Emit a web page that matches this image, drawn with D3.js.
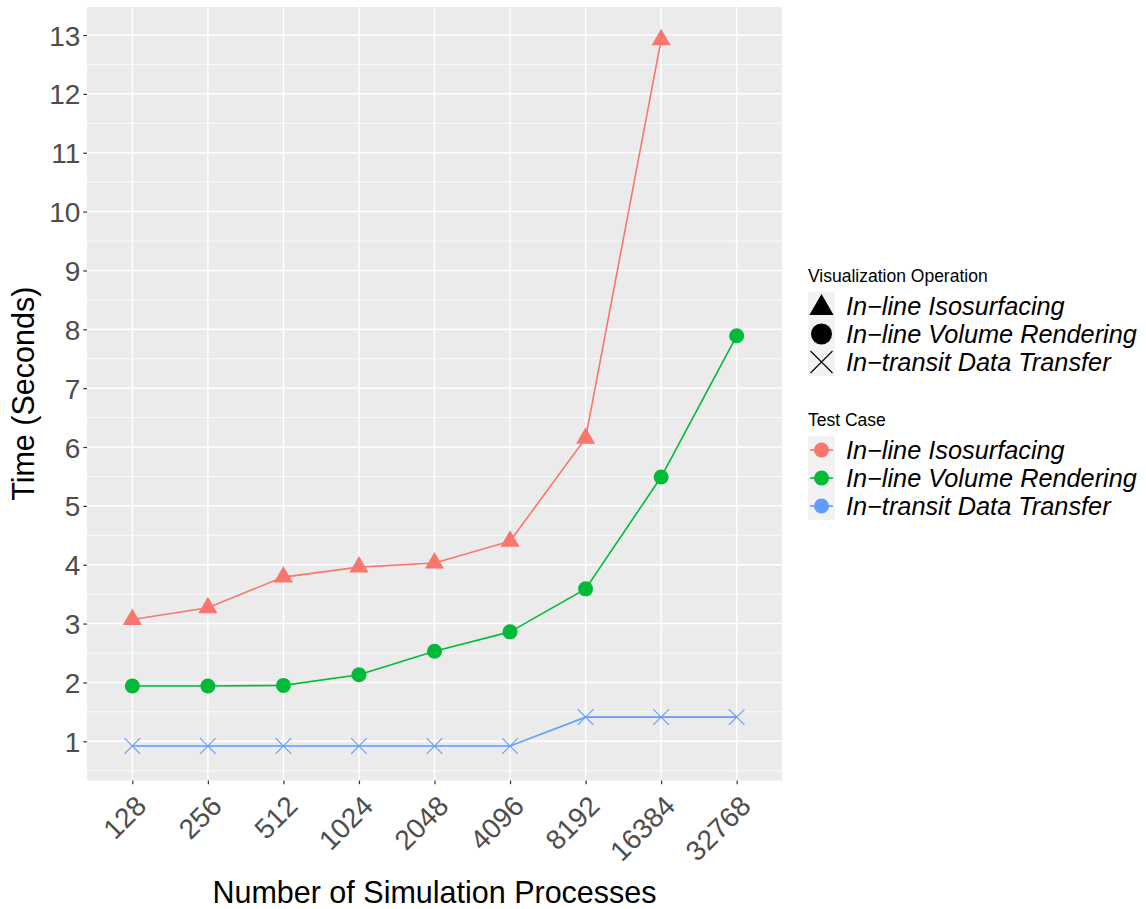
<!DOCTYPE html>
<html>
<head>
<meta charset="utf-8">
<script src="https://cdn.jsdelivr.net/npm/d3@7"></script>
<style>
  html, body { margin: 0; padding: 0; background: #fff; }
  svg { display: block; font-family: "Liberation Sans", Arial, Helvetica, sans-serif; }
</style>
</head>
<body>
<svg id="chart" width="1146" height="909"></svg>
<script>
// Processes on the x axis (discrete)
const processes = ["128", "256", "512", "1024", "2048", "4096", "8192", "16384", "32768"];

// Seconds per run for each test case
const isosurfacing = [3.07, 3.27, 3.79, 3.96, 4.03, 4.40, 6.15, 12.92, null];
const volumeRendering = [1.94, 1.94, 1.95, 2.13, 2.53, 2.86, 3.59, 5.49, 7.89];
const dataTransfer = [0.92, 0.92, 0.92, 0.92, 0.92, 0.92, 1.41, 1.41, 1.41];

const seriesNames = ["In\u2212line Isosurfacing", "In\u2212line Volume Rendering", "In\u2212transit Data Transfer"];
const seriesColors = ["#F8766D", "#00BA38", "#619CFF"];
const seriesShapes = ["triangle", "circle", "cross"];
const yTicks = [1, 2, 3, 4, 5, 6, 7, 8, 9, 10, 11, 12, 13];

const series = [isosurfacing, volumeRendering, dataTransfer].map((vals, i) => ({
  name: seriesNames[i], color: seriesColors[i], shape: seriesShapes[i],
  points: vals.map((v, j) => ({ x: processes[j], y: v })).filter(d => d.y != null)
}));

const svg = d3.select("#chart");
const panel = { left: 87, top: 7, right: 782, bottom: 780.5 };

const x = d3.scalePoint().domain(processes)
  .range([panel.left, panel.right]).padding(0.6);
const y = d3.scaleLinear().domain([0.334, 13.476])
  .range([panel.bottom, panel.top]);

// panel background
svg.append("rect")
  .attr("x", panel.left).attr("y", panel.top)
  .attr("width", panel.right - panel.left).attr("height", panel.bottom - panel.top)
  .attr("fill", "#EBEBEB");

// minor gridlines
const minor = d3.range(0.5, 13.6, 1);
svg.append("g").selectAll("line").data(minor).join("line")
  .attr("x1", panel.left).attr("x2", panel.right)
  .attr("y1", d => y(d)).attr("y2", d => y(d))
  .attr("stroke", "#fff").attr("stroke-width", 0.75);

// major gridlines
svg.append("g").selectAll("line").data(yTicks).join("line")
  .attr("x1", panel.left).attr("x2", panel.right)
  .attr("y1", d => y(d)).attr("y2", d => y(d))
  .attr("stroke", "#fff").attr("stroke-width", 1.5);
svg.append("g").selectAll("line").data(processes).join("line")
  .attr("x1", d => x(d)).attr("x2", d => x(d))
  .attr("y1", panel.top).attr("y2", panel.bottom)
  .attr("stroke", "#fff").attr("stroke-width", 1.5);

// y axis
const yAxis = svg.append("g")
  .attr("transform", `translate(${panel.left},0)`)
  .call(d3.axisLeft(y).tickValues(yTicks).tickSize(3.7).tickPadding(3));
yAxis.select(".domain").remove();
yAxis.selectAll(".tick line").attr("stroke", "#333").attr("stroke-width", 1.2);
yAxis.selectAll(".tick text")
  .attr("fill", "#4D4D4D").attr("font-size", 28).attr("dy", "0.36em")
  .style("font-family", "Liberation Sans, Arial, sans-serif");

// x axis
const xAxis = svg.append("g")
  .attr("transform", `translate(0,${panel.bottom})`)
  .call(d3.axisBottom(x).tickSize(3.7).tickFormat(""));
xAxis.select(".domain").remove();
xAxis.selectAll(".tick line").attr("stroke", "#333").attr("stroke-width", 1.2);
xAxis.selectAll(".tick").append("text")
  .text(d => d)
  .attr("fill", "#4D4D4D").attr("font-size", 28)
  .attr("text-anchor", "end")
  .attr("transform", "translate(1,13) rotate(-45)")
  .attr("dy", "0.72em")
  .style("font-family", "Liberation Sans, Arial, sans-serif");

// axis titles
svg.append("text")
  .attr("x", (panel.left + panel.right) / 2).attr("y", 903)
  .attr("text-anchor", "middle").attr("font-size", 30.5).attr("fill", "#000")
  .text("Number of Simulation Processes");
svg.append("text")
  .attr("transform", `translate(34,${(panel.top + panel.bottom) / 2}) rotate(-90)`)
  .attr("text-anchor", "middle").attr("font-size", 30.5).attr("fill", "#000")
  .text("Time (Seconds)");

// markers
function drawShape(sel, shape, size, fill) {
  if (shape === "triangle") {
    const r = size;
    const xc = r * Math.sqrt(3) / 2;
    sel.append("path")
      .attr("d", `M0,${-r}L${xc},${r / 2}L${-xc},${r / 2}Z`)
      .attr("fill", fill);
  } else if (shape === "circle") {
    sel.append("circle").attr("r", size).attr("fill", fill);
  } else {
    sel.append("path")
      .attr("d", `M${-size},${-size}L${size},${size}M${-size},${size}L${size},${-size}`)
      .attr("stroke", fill).attr("stroke-width", 1.1).attr("fill", "none");
  }
}
const markerSize = { triangle: 11, circle: 7.5, cross: 7.8 };

const line = d3.line().x(d => x(d.x)).y(d => y(d.y));
series.forEach(s => {
  svg.append("path")
    .datum(s.points)
    .attr("d", line)
    .attr("fill", "none").attr("stroke", s.color).attr("stroke-width", 1.6);
  svg.append("g").selectAll("g").data(s.points).join("g")
    .attr("transform", d => `translate(${x(d.x)},${y(d.y)})`)
    .each(function () { drawShape(d3.select(this), s.shape, markerSize[s.shape], s.color); });
});

// legends
const legX = 808, keyW = 27, labelX = 846;
function legendTitle(text, yPos) {
  svg.append("text").attr("x", legX).attr("y", yPos)
    .attr("font-size", 17.5).attr("fill", "#000").text(text);
}
function legendLabel(text, yPos) {
  svg.append("text").attr("x", labelX).attr("y", yPos).attr("dy", "0.36em")
    .attr("font-size", 25.3).attr("font-style", "italic").attr("fill", "#000").text(text);
}

legendTitle("Visualization Operation", 282);
const shapeRows = [306, 334, 362];
const legendShapeSize = { triangle: 14, circle: 10.5, cross: 11 };
series.forEach((s, i) => {
  const cy = shapeRows[i];
  svg.append("rect").attr("x", legX).attr("y", cy - 14).attr("width", keyW).attr("height", 28)
    .attr("fill", "#F2F2F2");
  const g = svg.append("g").attr("transform", `translate(${legX + keyW / 2},${cy + (s.shape === "triangle" ? 2 : 0)})`);
  drawShape(g, s.shape, legendShapeSize[s.shape], "#000");
  legendLabel(s.name, cy);
});

legendTitle("Test Case", 426);
const colorRows = [450, 478, 506];
series.forEach((s, i) => {
  const cy = colorRows[i];
  svg.append("rect").attr("x", legX).attr("y", cy - 14).attr("width", keyW).attr("height", 28)
    .attr("fill", "#F2F2F2");
  svg.append("line").attr("x1", legX + 2).attr("x2", legX + keyW - 2)
    .attr("y1", cy).attr("y2", cy).attr("stroke", s.color).attr("stroke-width", 1.6);
  svg.append("circle").attr("cx", legX + keyW / 2).attr("cy", cy).attr("r", 7.5).attr("fill", s.color);
  legendLabel(s.name, cy);
});
</script>
</body>
</html>
